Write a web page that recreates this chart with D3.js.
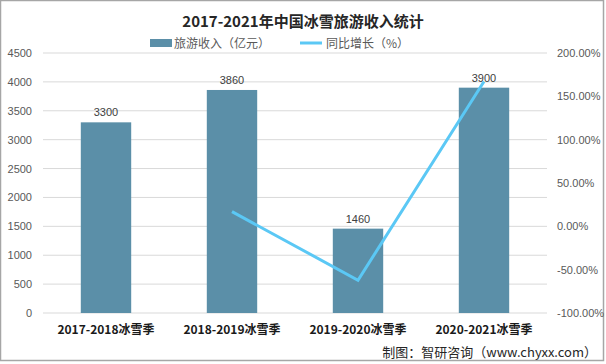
<!DOCTYPE html>
<html><head><meta charset="utf-8">
<script src="https://cdn.jsdelivr.net/npm/d3@7/dist/d3.min.js"></script>
<style>body{margin:0;background:#fff;}svg{display:block;font-family:"Noto Sans CJK SC","Noto Sans",sans-serif;}</style>
</head><body>
<svg id="c" width="606" height="364"></svg>
<script>
const categories = ["2017-2018冰雪季","2018-2019冰雪季","2019-2020冰雪季","2020-2021冰雪季"];
const revenue = [3300, 3860, 1460, 3900];
const growth = [null, 17.0, -62.2, 167.1];
const leftTicks = [0,500,1000,1500,2000,2500,3000,3500,4000,4500];
const rightTicks = [-100,-50,0,50,100,150,200];
const title = "2017-2021年中国冰雪旅游收入统计";
const legendNames = ["旅游收入（亿元）","同比增长（%）"];
const source = "制图：智研咨询（www.chyxx.com）";

const svg = d3.select("#c");
const W=606,H=364, L=43, R=547, T=53, B=313;
const numFont = "Liberation Sans, Arial, sans-serif";
svg.append("rect").attr("x",0.5).attr("y",0.5).attr("width",W-3).attr("height",H-4).attr("fill","#fff").attr("stroke","#a6a6a6").attr("stroke-width",1.5);

const x = d3.scaleBand().domain(categories).range([L,R]).paddingInner(0.6).paddingOuter(0.3);
const xc = d3.scaleBand().domain(categories).range([L,R]);
const y = d3.scaleLinear().domain([0,4500]).range([B,T]);
const y2 = d3.scaleLinear().domain([-100,200]).range([B,T]);

// gridlines
svg.append("g").selectAll("line").data(leftTicks).join("line")
  .attr("x1",L).attr("x2",R).attr("y1",d=>y(d)).attr("y2",d=>y(d))
  .attr("stroke","#d9d9d9").attr("stroke-width",1);

// left axis
const gl = svg.append("g").attr("transform",`translate(${L},0)`)
  .call(d3.axisLeft(y).tickValues(leftTicks).tickSize(0).tickPadding(11).tickFormat(d3.format("d")));
gl.select(".domain").remove();
gl.selectAll("text").attr("fill","#595959").style("font-size","11px").style("font-family",numFont);

// right axis
const gr = svg.append("g").attr("transform",`translate(${R},0)`)
  .call(d3.axisRight(y2).tickValues(rightTicks).tickSize(0).tickPadding(10).tickFormat(d=>d.toFixed(2)+"%"));
gr.select(".domain").remove();
gr.selectAll("text").attr("fill","#595959").style("font-size","11px").style("font-family",numFont);

// bars
svg.append("g").selectAll("rect").data(revenue).join("rect")
  .attr("x",(d,i)=>x(categories[i])).attr("width",x.bandwidth())
  .attr("y",d=>y(d)).attr("height",d=>B-y(d)).attr("fill","#5b8fa8");

// bar labels
svg.append("g").selectAll("text").data(revenue).join("text")
  .attr("x",(d,i)=>x(categories[i])+x.bandwidth()/2).attr("y",d=>y(d)-6)
  .attr("text-anchor","middle").attr("fill","#404040").style("font-size","11px")
  .style("font-family",numFont).text(d=>d);

// line
const pts = growth.map((g,i)=>({g,c:categories[i]})).filter(d=>d.g!==null);
svg.append("path").datum(pts)
  .attr("d",d3.line().x(d=>xc(d.c)+xc.bandwidth()/2).y(d=>y2(d.g)))
  .attr("fill","none").attr("stroke","#5bc8f5").attr("stroke-width",3);

// category labels
svg.append("g").selectAll("text").data(categories).join("text")
  .attr("x",d=>xc(d)+xc.bandwidth()/2).attr("y",334)
  .attr("text-anchor","middle").attr("fill","#1a1a1a").style("font-size","12px").style("font-weight","bold")
  .text(d=>d);

// title
svg.append("text").attr("x",W/2).attr("y",27).attr("text-anchor","middle")
  .attr("fill","#262626").style("font-size","15px").style("font-weight","bold").text(title);

// legend
const lg = svg.append("g");
lg.append("rect").attr("x",150).attr("y",39).attr("width",22).attr("height",8).attr("fill","#5b8fa8");
lg.append("text").attr("x",174).attr("y",48).attr("fill","#595959").style("font-size","12px").text(legendNames[0]);
lg.append("line").attr("x1",300).attr("x2",322).attr("y1",43).attr("y2",43).attr("stroke","#5bc8f5").attr("stroke-width",3);
lg.append("text").attr("x",326).attr("y",48).attr("fill","#595959").style("font-size","12px").text(legendNames[1]);

// source
svg.append("text").attr("x",597).attr("y",357).attr("text-anchor","end")
  .attr("fill","#262626").style("font-size","13px").text(source);
</script>
</body></html>
